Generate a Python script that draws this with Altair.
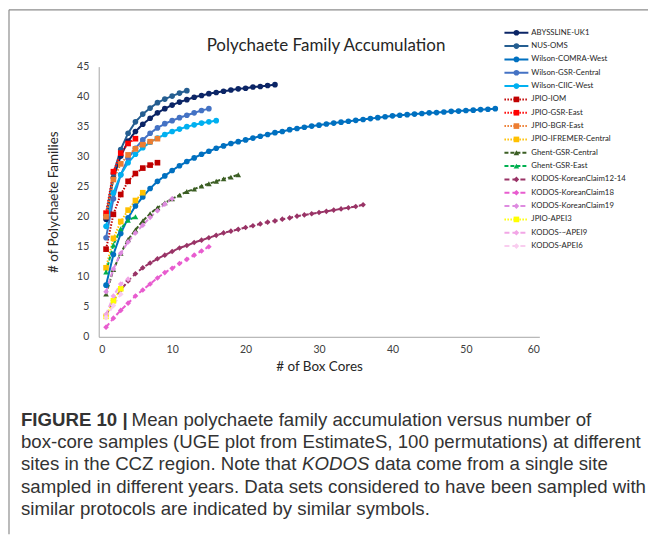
import altair as alt
import pandas as pd

# ---------------- data ----------------
series_names = [
    "ABYSSLINE-UK1", "NUS-OMS", "Wilson-COMRA-West", "Wilson-GSR-Central",
    "Wilson-CIIC-West", "JPIO-IOM", "JPIO-GSR-East", "JPIO-BGR-East",
    "JPIO-IFREMER-Central", "Ghent-GSR-Central", "Ghent-GSR-East",
    "KODOS-KoreanClaim12-14", "KODOS-KoreanClaim18", "KODOS-KoreanClaim19",
    "JPIO-APEI3", "KODOS-~APEI9", "KODOS-APEI6",
]

abyssline_uk1 = [19.6, 26.5, 30.1, 32.6, 34.2, 35.4, 36.4, 37.3, 38.0, 38.6, 39.1, 39.5,
                 39.9, 40.2, 40.5, 40.7, 40.9, 41.1, 41.3, 41.4, 41.6, 41.7, 41.85, 42.0]
nus_oms = [20.2, 27.2, 31.2, 33.9, 35.8, 37.1, 38.1, 39.0, 39.6, 40.1, 40.6, 41.0]
wilson_comra_west = [8.6, 13.7, 17.2, 19.8, 21.8, 23.3, 24.7, 25.9, 26.8, 27.7, 28.5, 29.2,
                     29.8, 30.4, 30.9, 31.4, 31.8, 32.2, 32.5, 32.8, 33.1, 33.4, 33.7, 34.0,
                     34.2, 34.5, 34.7, 34.9, 35.1, 35.25, 35.45, 35.6, 35.75, 35.9, 36.05,
                     36.2, 36.35, 36.5, 36.65, 36.8, 36.9, 37.0, 37.1, 37.2, 37.3, 37.35,
                     37.45, 37.55, 37.6, 37.7, 37.75, 37.85, 37.9, 38.0]
wilson_gsr_central = [16.5, 23.0, 27.0, 29.7, 31.4, 32.8, 33.9, 34.8, 35.5, 36.0, 36.5,
                      36.9, 37.3, 37.7, 38.0]
wilson_ciic_west = [18.4, 24.0, 27.0, 29.0, 30.4, 31.5, 32.4, 33.1, 33.7, 34.2, 34.6, 35.0,
                    35.3, 35.6, 35.8, 36.0]
jpio_iom = [14.6, 20.4, 23.7, 25.9, 27.2, 28.1, 28.6, 29.0]
jpio_gsr_east = [20.6, 27.5, 30.6, 32.2, 33.0]
jpio_bgr_east = [20.0, 26.2, 28.8, 30.3, 31.3, 32.0, 32.5, 33.0]
jpio_ifremer_central = [11.5, 16.4, 19.2, 21.1, 22.7, 24.0]
ghent_gsr_central = [7.1, 11.2, 13.9, 16.2, 17.8, 19.3, 20.5, 21.5, 22.3, 23.0, 23.6, 24.2,
                     24.6, 25.1, 25.5, 25.9, 26.3, 26.6, 27.0]
ghent_gsr_east = [10.8, 15.3, 18.0, 19.4, 20.0]
kodos_kc12_14 = [3.6, 6.0, 7.8, 9.3, 10.5, 11.5, 12.3, 13.0, 13.6, 14.2, 14.8, 15.2, 15.7,
                 16.1, 16.5, 16.9, 17.3, 17.6, 17.9, 18.2, 18.5, 18.8, 19.1, 19.3, 19.6,
                 19.8, 20.1, 20.3, 20.5, 20.7, 20.9, 21.1, 21.3, 21.5, 21.7, 22.0]
kodos_kc18 = [1.6, 3.1, 4.4, 5.6, 6.8, 7.8, 8.8, 9.8, 10.7, 11.4, 12.2, 12.9, 13.6, 14.3, 15.0]
kodos_kc19 = [7.5, 11.3, 13.9, 15.8, 17.3, 18.6, 19.9, 21.0, 22.1, 23.0]
jpio_apei3 = [3.4, 6.0, 8.0]
kodos_apei9 = [3.7, 6.8, 8.8, 9.6]
kodos_apei6 = [3.2, 5.2, 7.1]

series_values = [abyssline_uk1, nus_oms, wilson_comra_west, wilson_gsr_central,
                 wilson_ciic_west, jpio_iom, jpio_gsr_east, jpio_bgr_east,
                 jpio_ifremer_central, ghent_gsr_central, ghent_gsr_east,
                 kodos_kc12_14, kodos_kc18, kodos_kc19, jpio_apei3, kodos_apei9, kodos_apei6]

colors = ["#0B2566", "#255E91", "#0070C0", "#4472C4", "#00B0F0",
          "#C00000", "#FF0000", "#ED7D31", "#FFC000",
          "#3B5E23", "#00B050",
          "#993366", "#E85CCF", "#DE8BE0", "#FFFF00", "#F2A6E6", "#F9CDEF"]

shapes = ["circle"] * 5 + ["square"] * 4 + ["triangle-up"] * 2 + ["diamond"] * 3 + \
         ["square"] + ["diamond"] * 2
marker_sizes = [32] * 5 + [42] * 4 + [40] * 2 + [40] * 3 + [42] + [40] * 2
solid, dotted, dashed, kodos_dash = [1, 0], [1.5, 1.5], [4, 2], [5, 3]
dashes = [solid] * 5 + [dotted] * 4 + [dashed] * 2 + [kodos_dash] * 3 + [dotted] + [kodos_dash] * 2
line_widths = [2] * 5 + [1.6] * 4 + [1.6] * 2 + [1.6] * 3 + [1.6] + [1.6] * 2

x_ticks = [0, 10, 20, 30, 40, 50, 60]
y_ticks = [0, 5, 10, 15, 20, 25, 30, 35, 40, 45]

chart_title = "Polychaete Family Accumulation"
x_title = "# of Box Cores"
y_title = "# of Polychaete Families"

caption_bold = "FIGURE 10 |"
caption_l1 = "Mean polychaete family accumulation versus number of"
caption_l2 = "box-core samples (UGE plot from EstimateS, 100 permutations) at different"
caption_l3a = "sites in the CCZ region. Note that"
caption_l3b = "KODOS"
caption_l3c = "data come from a single site"
caption_l4 = "sampled in different years. Data sets considered to have been sampled with"
caption_l5 = "similar protocols are indicated by similar symbols."

# ---------------- tables ----------------
rows = []
for k, (name, vals) in enumerate(zip(series_names, series_values)):
    for i, v in enumerate(vals):
        rows.append({"series": name, "cores": i + 1, "families": v, "k": k})
df = pd.DataFrame(rows)
df_leg = pd.DataFrame({"series": series_names})
one = pd.DataFrame({"a": [0]})

CHART_FONT = "Lato"
CAP_FONT = "Liberation Sans"
CAP_SIZE = 18.7
W, H = 442, 271

color_enc = alt.Color("series:N", scale=alt.Scale(domain=series_names, range=colors), legend=None)
dash_enc = alt.StrokeDash("series:N", scale=alt.Scale(domain=series_names, range=dashes), legend=None)
sw_enc = alt.StrokeWidth("series:N", scale=alt.Scale(domain=series_names, range=line_widths), legend=None)
shape_enc = alt.Shape("series:N", scale=alt.Scale(domain=series_names, range=shapes), legend=None)
size_enc = alt.Size("series:N", scale=alt.Scale(domain=series_names, range=marker_sizes), legend=None)

x_axis = alt.Axis(values=x_ticks, tickCount=7, title=x_title, ticks=False, grid=False,
                  domainColor="#a6a6a6", labelPadding=8, titlePadding=4,
                  labelFontSize=10.5, titleFontSize=13.5, labelFont=CHART_FONT,
                  titleFont=CHART_FONT, labelColor="#404040", titleColor="#262626",
                  titleFontWeight="normal", labelOverlap=False)
y_axis = alt.Axis(values=y_ticks, tickCount=10, title=y_title, ticks=False, grid=False,
                  domainColor="#a6a6a6", labelPadding=10, titlePadding=16,
                  labelFontSize=10.5, titleFontSize=13.5, labelFont=CHART_FONT,
                  titleFont=CHART_FONT, labelColor="#404040", titleColor="#262626",
                  titleFontWeight="normal", labelOverlap=False)
x_enc = alt.X("cores:Q", scale=alt.Scale(domain=[0, 60], nice=False), axis=x_axis)
y_enc = alt.Y("families:Q", scale=alt.Scale(domain=[0, 45], nice=False), axis=y_axis)

lines = alt.Chart(df).mark_line().encode(
    x=x_enc, y=y_enc, color=color_enc, strokeDash=dash_enc, strokeWidth=sw_enc,
    detail="series:N", order="cores:Q")
points = alt.Chart(df).mark_point(filled=True, opacity=1).encode(
    x=x_enc, y=y_enc, color=color_enc, shape=shape_enc, size=size_enc,
    order="k:Q")
main = alt.layer(lines, points)

# legend built from the same scales
leg_y = alt.Y("series:N", scale=alt.Scale(type="point", domain=series_names,
                                          range=[-34, 180], padding=0), axis=None)
leg_line = alt.Chart(df_leg).mark_rule().encode(
    x=alt.value(407), x2=alt.value(431), y=leg_y, color=color_enc,
    strokeDash=dash_enc, strokeWidth=sw_enc)
leg_pt = alt.Chart(df_leg).mark_point(filled=True, opacity=1).encode(
    x=alt.value(419), y=leg_y, color=color_enc, shape=shape_enc, size=size_enc)
leg_txt = alt.Chart(df_leg).mark_text(align="left", baseline="middle", fontSize=7.8,
                                      font=CHART_FONT, color="#262626").encode(
    x=alt.value(434), y=leg_y, text="series:N")
legend = alt.layer(leg_line, leg_pt, leg_txt)

title_mark = alt.Chart(one).mark_text(align="center", baseline="middle", fontSize=17,
                                      font=CHART_FONT, color="#262626").encode(
    x=alt.value(228), y=alt.value(-21), text=alt.value(chart_title))

# caption
def cap(txt, x, y, weight="normal", style="normal"):
    return alt.Chart(one).mark_text(align="left", baseline="middle", fontSize=CAP_SIZE,
                                    font=CAP_FONT, color="#333333", fontWeight=weight,
                                    fontStyle=style).encode(
        x=alt.value(x), y=alt.value(y), text=alt.value(txt))

cx = -78
caption = alt.layer(
    cap(caption_bold, cx, 354, weight="bold"),
    cap(caption_l1, 33, 354),
    cap(caption_l2, cx, 376.5),
    cap(caption_l3a, cx, 399),
    cap(caption_l3b, 204, 399, style="italic"),
    cap(caption_l3c, 277, 399),
    cap(caption_l4, cx, 421.5),
    cap(caption_l5, cx, 443.5),
)

# frame around figure
frame_v = alt.Chart(one).mark_rule(color="#8c8c8c", strokeWidth=1.2).encode(
    x=alt.value(-90), y=alt.value(-57), y2=alt.value(469))
frame_h = alt.Chart(one).mark_rule(color="#8c8c8c", strokeWidth=1.2).encode(
    x=alt.value(-90), x2=alt.value(551), y=alt.value(-57))

chart = alt.layer(main, legend, title_mark, caption, frame_v, frame_h).resolve_scale(
    x="independent", y="independent"
).properties(width=W, height=H, padding=0).configure_view(strokeWidth=0)

chart.save("out.html", embed_options={"renderer": "svg", "actions": False})
